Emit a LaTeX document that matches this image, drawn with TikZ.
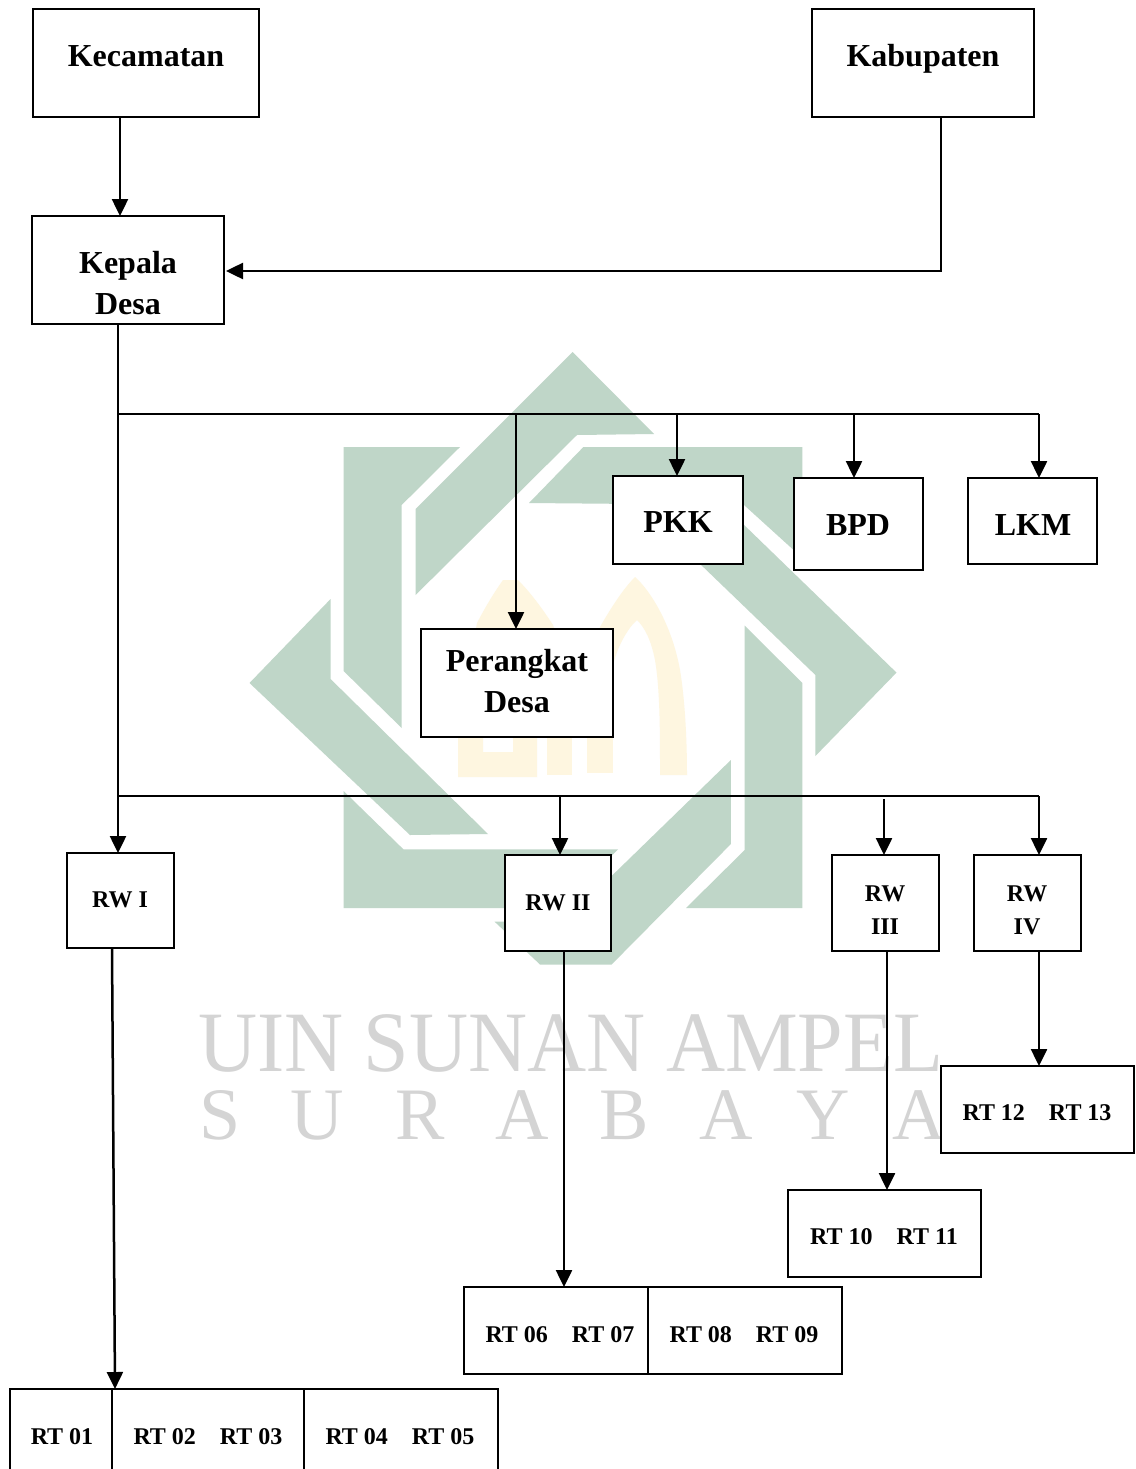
\documentclass[tikz,border=0pt]{standalone}
\usepackage{fontspec}
\setmainfont{Liberation Serif}
\newfontfamily\wmfont[FakeStretch=0.951]{Liberation Serif}
\newfontfamily\wmspaced[LetterSpace=68.5]{Liberation Serif}
\usetikzlibrary{arrows.meta,calc}
\definecolor{wmgreen}{HTML}{BFD6C8}
\definecolor{wmgold}{HTML}{FEF6E0}
\definecolor{wmgray}{HTML}{D4D4D4}
\tikzset{
  boxn/.style={draw=black,fill=white,line width=2pt,inner sep=0pt,outer sep=0pt},
  bigt/.style={font=\fontsize{32}{41}\selectfont\bfseries,align=center,inner sep=0pt,text=black},
  smallt/.style={font=\fontsize{24}{33}\selectfont\bfseries,align=center,inner sep=0pt,text=black},
  conn/.style={draw=black,line width=2.5pt},
  arr/.style={conn,-{Triangle[width=16pt,length=17pt]},shorten >=0pt},
  wmshape/.style={fill=wmgreen,draw=none},
  archshape/.style={fill=wmgold,draw=none},
  wmtext/.style={text=wmgray,inner sep=0pt,anchor=base west}
}
\newcommand{\rbox}[5]{\node[boxn,minimum width={(#4-#2)*1pt},minimum height={(#5-#3)*1pt}] (#1) at ({(#2+#4)/2},{(#3+#5)/2}) {};}
\begin{document}
\begin{tikzpicture}[x=1pt,y=-1pt]
\useasboundingbox (0,0) rectangle (1135,1469);
\clip (0,0) rectangle (1135,1469);
\fill[white] (0,0) rectangle (1135,1469);
% watermark star
\fill[wmshape] (572.6,352)--(654,434)--(577,435)--(415.6,595)--(415.6,509)--cycle;
\fill[wmshape] (343.6,447)--(460,447)--(401.7,505)--(401.7,728)--(343.6,671)--cycle;
\fill[wmshape] (529,503)--(583.4,447)--(802.4,447)--(802.4,558)--(744,505)--cycle;
\fill[wmshape] (741,522)--(896.5,672.6)--(815.4,756)--(815.4,675)--(702.7,566.5)--(680,545)--cycle;
\fill[wmshape] (744.7,625.7)--(802.4,683)--(802.4,908)--(686,908)--(744.7,850)--cycle;
\fill[wmshape] (730.9,760)--(730.9,844)--(611.6,964.5)--(540,964.5)--(494.5,921.6)--(590,921.6)--(590,897)--cycle;
\fill[wmshape] (343.6,791)--(403.5,849.4)--(618,849.4)--(560,908)--(343.6,908)--cycle;
\fill[wmshape] (249.5,683)--(330.6,599)--(330.6,679)--(488,834)--(410,835)--cycle;
% watermark arches
\fill[archshape] (470,660)--(477,623) .. controls (488,602) and (496,590) .. (503,580)--(518,580) .. controls (530,592) and (542,608) .. (553,625)--(572,680)--(470,680)--cycle;
\fill[archshape] (587,680)--(600,627) .. controls (612,606) and (624,588) .. (635,577) .. controls (650,590) and (672,625) .. (680,670) .. controls (685,700) and (687,740) .. (687,775)--(660,775) .. controls (660,730) and (660,690) .. (655,660) .. controls (651,640) and (645,628) .. (637,620) .. controls (628,628) and (618,645) .. (613,665)--(613,680)--cycle;
\fill[archshape] (458,730)--(483,730)--(483,752)--(513,752)--(513,730)--(537,730)--(537,777)--(458,777)--cycle;
\fill[archshape] (547,730) rectangle (572,775);
\fill[archshape] (587,730) rectangle (613,773);
% watermark text
\node[wmtext,font=\wmfont\fontsize{86}{86}\selectfont] (wm1) at (198,1071) {UIN SUNAN AMPEL};
\node[wmtext,font=\wmspaced\fontsize{74}{74}\selectfont] (wm2) at (199,1139) {SURABAYA};
% junction coordinates
\coordinate (xkec) at (120,117);
\coordinate (xkab) at (941,271);
\coordinate (xmain) at (118,414);
\coordinate (xper) at (516,414);
\coordinate (xpkk) at (677,414);
\coordinate (xbpd) at (854,414);
\coordinate (xlkm) at (1039,414);
\coordinate (lowmain) at (118,796);
\coordinate (xrw2) at (560,796);
\coordinate (xrw3) at (884,799);
\coordinate (xrw4) at (1039,796);
\coordinate (srw1) at (112,948);
\coordinate (trt1) at (115,1389);
\coordinate (xrt2) at (564,951);
\coordinate (xrt3) at (887,951);
\coordinate (xrt4) at (1039,951);
% connectors
\draw[arr] (xkec) -- (xkec |- 0,216);
\draw[arr] (xkab |- 0,117) -- (xkab) -- (226,271);
\draw[conn] (xmain) -- (xlkm);
\draw[conn] (lowmain) -- (xrw4);
\draw[arr] (xper) -- (516,629);
\draw[arr] (xpkk) -- (677,476);
\draw[arr] (xbpd) -- (854,478);
\draw[arr] (xlkm) -- (1039,478);
\draw[arr] (xrw2) -- (560,855);
\draw[arr] (xrw3) -- (884,855);
\draw[arr] (xrw4) -- (1039,855);
\draw[arr] (118,324) -- (118,853);
\draw[arr] (srw1) -- (trt1);
\draw[arr] (xrt2) -- (564,1287);
\draw[arr] (xrt3) -- (887,1190);
\draw[arr] (xrt4) -- (1039,1066);
% boxes
\rbox{kec}{33}{9}{259}{117}
\rbox{kab}{812}{9}{1034}{117}
\rbox{kep}{32}{216}{224}{324}
\rbox{pkk}{613}{476}{743}{564}
\rbox{bpd}{794}{478}{923}{570}
\rbox{lkm}{968}{478}{1097}{564}
\rbox{per}{421}{629}{613}{737}
\rbox{rwa}{67}{853}{174}{948}
\rbox{rwb}{505}{855}{611}{951}
\rbox{rwc}{832}{855}{939}{951}
\rbox{rwd}{974}{855}{1081}{951}
\rbox{rtd}{941}{1066}{1134}{1153}
\rbox{rtc}{788}{1190}{981}{1277}
\rbox{rtba}{464}{1287}{648}{1374}
\rbox{rtbb}{648}{1287}{842}{1374}
\rbox{rtaa}{10}{1389}{112}{1473}
\rbox{rtab}{112}{1389}{304}{1473}
\rbox{rtac}{304}{1389}{498}{1473}
% labels
\node[bigt] (tkec) at (146,56) {Kecamatan};
\node[bigt] (tkab) at (923,59) {Kabupaten};
\node[bigt] (tkep) at (128,283) {Kepala\\Desa};
\node[bigt] (tpkk) at (678,522) {PKK};
\node[bigt] (tbpd) at (858,525) {BPD};
\node[bigt] (tlkm) at (1033,525) {LKM};
\node[bigt] (tper) at (517,681) {Perangkat\\Desa};
\node[smallt] (trwa) at (120,900) {RW I};
\node[smallt] (trwb) at (558,903) {RW II};
\node[smallt] (trwc) at (885,910) {RW\\III};
\node[smallt] (trwd) at (1027,910) {RW\\IV};
\node[smallt] (trtd) at (1037,1113) {RT 12\hspace{24pt}RT 13};
\node[smallt] (trtc) at (884,1237) {RT 10\hspace{24pt}RT 11};
\node[smallt] (trtba) at (560,1335) {RT 06\hspace{24pt}RT 07};
\node[smallt] (trtbb) at (744,1335) {RT 08\hspace{24pt}RT 09};
\node[smallt] (trtaa) at (62,1437) {RT 01};
\node[smallt] (trtab) at (208,1437) {RT 02\hspace{24pt}RT 03};
\node[smallt] (trtac) at (400,1437) {RT 04\hspace{24pt}RT 05};
\end{tikzpicture}
\end{document}
